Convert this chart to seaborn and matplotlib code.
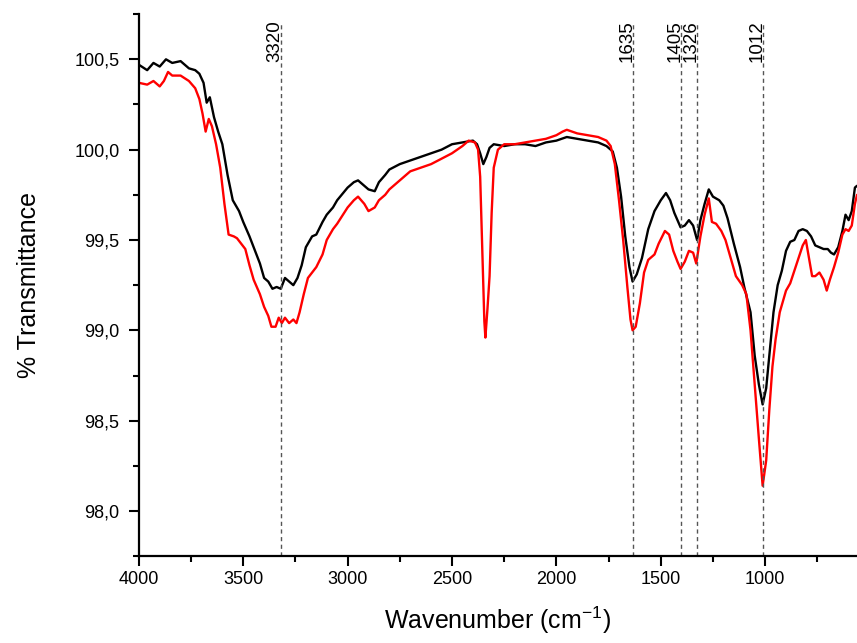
import numpy as np
import pandas as pd
import matplotlib
matplotlib.use("Agg")
import matplotlib.pyplot as plt
from matplotlib.ticker import FuncFormatter, MultipleLocator
import seaborn as sns

wn_negro = [4000, 3960, 3930, 3900, 3870, 3840, 3800, 3760, 3730, 3710, 3690, 3675,
            3660, 3640, 3620, 3600, 3575, 3550, 3520, 3500, 3470, 3450, 3420, 3400,
            3380, 3360, 3340, 3320, 3300, 3280, 3260, 3240, 3220, 3200, 3170, 3150,
            3120, 3100, 3070, 3050, 3000, 2970, 2950, 2920, 2900, 2870, 2850, 2820,
            2800, 2750, 2700, 2650, 2600, 2550, 2500, 2450, 2400, 2380, 2365, 2350,
            2335, 2320, 2300, 2250, 2200, 2150, 2100, 2050, 2000, 1950, 1900, 1850,
            1800, 1760, 1730, 1710, 1690, 1670, 1650, 1635, 1615, 1590, 1560, 1530,
            1500, 1475, 1455, 1435, 1405, 1385, 1365, 1345, 1326, 1310, 1290, 1270,
            1250, 1220, 1200, 1180, 1150, 1120, 1100, 1070, 1050, 1030, 1012, 995,
            980, 960, 940, 920, 900, 880, 860, 840, 820, 800, 780, 760, 740, 720,
            700, 685, 670, 650, 630, 615, 600, 585, 570, 560]
t_negro = [100.47, 100.44, 100.48, 100.46, 100.50, 100.48, 100.49, 100.45, 100.44, 100.42,
           100.37, 100.26, 100.29, 100.18, 100.10, 100.03, 99.86, 99.72, 99.66, 99.60,
           99.52, 99.46, 99.37, 99.29, 99.27, 99.23, 99.24, 99.23, 99.29, 99.27, 99.25,
           99.29, 99.36, 99.46, 99.52, 99.53, 99.60, 99.64, 99.68, 99.72, 99.79, 99.82,
           99.83, 99.80, 99.78, 99.77, 99.82, 99.86, 99.89, 99.92, 99.94, 99.96, 99.98,
           100.00, 100.03, 100.04, 100.05, 100.03, 99.98, 99.92, 99.96, 100.01, 100.03,
           100.02, 100.03, 100.03, 100.02, 100.04, 100.05, 100.07, 100.06, 100.05, 100.04,
           100.02, 99.99, 99.90, 99.74, 99.52, 99.35, 99.27, 99.31, 99.40, 99.56, 99.66,
           99.72, 99.76, 99.72, 99.65, 99.57, 99.58, 99.61, 99.58, 99.50, 99.61, 99.70,
           99.78, 99.74, 99.72, 99.69, 99.62, 99.48, 99.35, 99.24, 99.10, 98.86, 98.70,
           98.59, 98.68, 98.86, 99.10, 99.25, 99.33, 99.44, 99.49, 99.50, 99.55, 99.56,
           99.55, 99.52, 99.47, 99.46, 99.45, 99.45, 99.43, 99.42, 99.46, 99.55, 99.64,
           99.61, 99.66, 99.79, 99.80]

wn_rojo = [4000, 3960, 3930, 3900, 3880, 3860, 3840, 3800, 3760, 3730, 3710, 3695,
           3680, 3665, 3650, 3630, 3610, 3590, 3570, 3545, 3530, 3510, 3490, 3470,
           3450, 3420, 3400, 3380, 3365, 3345, 3330, 3315, 3300, 3280, 3260, 3245,
           3230, 3210, 3190, 3170, 3150, 3120, 3100, 3070, 3050, 3000, 2970, 2950,
           2920, 2900, 2870, 2850, 2820, 2800, 2750, 2700, 2650, 2600, 2550, 2500,
           2450, 2420, 2390, 2375, 2365, 2355, 2345, 2340, 2330, 2320, 2310, 2300,
           2280, 2250, 2200, 2150, 2100, 2050, 2000, 1970, 1950, 1900, 1850, 1800,
           1760, 1740, 1720, 1700, 1680, 1660, 1645, 1635, 1620, 1600, 1580, 1560,
           1530, 1510, 1480, 1460, 1440, 1420, 1405, 1385, 1365, 1345, 1330, 1310,
           1290, 1270, 1255, 1235, 1210, 1190, 1160, 1140, 1110, 1090, 1070, 1050,
           1030, 1012, 995, 980, 965, 950, 930, 900, 880, 860, 840, 820, 805, 790,
           775, 760, 740, 720, 705, 690, 670, 650, 630, 615, 600, 585, 570, 560]
t_rojo = [100.37, 100.36, 100.38, 100.35, 100.38, 100.43, 100.41, 100.41, 100.38, 100.34,
          100.28, 100.20, 100.10, 100.17, 100.13, 100.03, 99.90, 99.70, 99.53, 99.52,
          99.51, 99.48, 99.45, 99.36, 99.28, 99.20, 99.13, 99.08, 99.02, 99.02, 99.07,
          99.04, 99.07, 99.04, 99.06, 99.04, 99.10, 99.20, 99.29, 99.32, 99.35, 99.42,
          99.50, 99.56, 99.59, 99.68, 99.72, 99.74, 99.70, 99.66, 99.68, 99.72, 99.75,
          99.78, 99.83, 99.88, 99.90, 99.92, 99.95, 99.98, 100.02, 100.05, 100.04,
          100.00, 99.85, 99.45, 99.05, 98.96, 99.12, 99.30, 99.65, 99.90, 100.00, 100.03,
          100.03, 100.04, 100.05, 100.06, 100.08, 100.10, 100.11, 100.09, 100.08, 100.07,
          100.05, 100.02, 99.92, 99.72, 99.50, 99.24, 99.06, 99.00, 99.02, 99.15, 99.32,
          99.39, 99.42, 99.48, 99.55, 99.53, 99.44, 99.38, 99.34, 99.38, 99.44, 99.43,
          99.37, 99.52, 99.64, 99.73, 99.60, 99.59, 99.55, 99.50, 99.38, 99.30, 99.25,
          99.20, 99.00, 98.70, 98.40, 98.14, 98.28, 98.56, 98.80, 98.95, 99.10, 99.22,
          99.26, 99.33, 99.40, 99.47, 99.50, 99.40, 99.30, 99.30, 99.32, 99.28, 99.22,
          99.28, 99.35, 99.43, 99.53, 99.56, 99.55, 99.58, 99.70, 99.75]

picos = [3320, 1635, 1405, 1326, 1012]
etiquetas_picos = ["3320", "1635", "1405", "1326", "1012"]

# -- Estilo ---------------------------------------------------------------------
sns.set_style("ticks")
plt.rcParams["font.family"] = ["Liberation Sans", "DejaVu Sans"]
plt.rcParams.update({"text.color": "black", "axes.labelcolor": "black",
                     "xtick.color": "black", "ytick.color": "black"})

fig = plt.figure(figsize=(8.57, 6.43), dpi=100)
ax = fig.add_axes([0.162, 0.135, 0.838, 0.843])

sns.lineplot(x=wn_negro, y=t_negro, color="black", linewidth=1.7, ax=ax, sort=False)
sns.lineplot(x=wn_rojo, y=t_rojo, color="#ff0000", linewidth=1.7, ax=ax, sort=False)

# lineas de picos
for pico, txt in zip(picos, etiquetas_picos):
    ax.axvline(pico, ymin=0, ymax=0.983, color="#555555", linestyle=(0, (3, 2.5)), linewidth=1.0)
    ax.text(pico - 14, 100.715, txt, rotation=90, ha="right", va="top", fontsize=13.5)

ax.set_xlim(4000, 560)
ax.set_ylim(97.75, 100.75)
ax.xaxis.set_major_locator(MultipleLocator(500))
ax.xaxis.set_minor_locator(MultipleLocator(250))
ax.yaxis.set_major_locator(MultipleLocator(0.5))
ax.yaxis.set_minor_locator(MultipleLocator(0.25))
ax.yaxis.set_major_formatter(FuncFormatter(lambda v, p: f"{v:.1f}".replace(".", ",")))

ax.tick_params(which="major", direction="out", length=7, width=1.5, labelsize=13,
               color="black", labelcolor="black")
ax.tick_params(which="minor", direction="out", length=4, width=1.5, color="black")
ax.tick_params(axis="y", which="major", pad=7)
for s in ["top", "right"]:
    ax.spines[s].set_visible(False)
for s in ["left", "bottom"]:
    ax.spines[s].set_linewidth(1.6)
    ax.spines[s].set_color("black")

ax.set_xlabel("Wavenumber (cm$^{\\mathregular{-1}}$)", fontsize=18, labelpad=12, color="black")
ax.set_ylabel("% Transmittance", fontsize=18, labelpad=24, color="black")

fig.savefig("out.png", dpi=100)
plt.close(fig)
